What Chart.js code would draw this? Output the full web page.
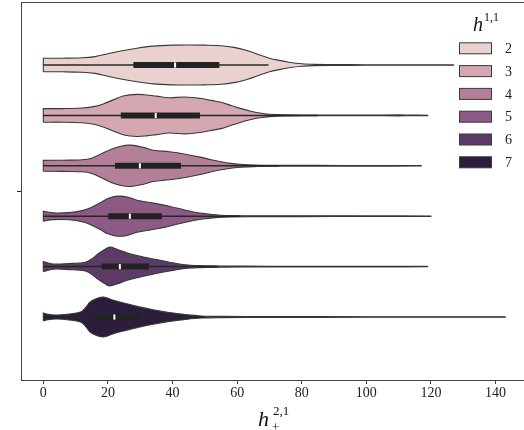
<!DOCTYPE html>
<html><head><meta charset="utf-8">
<script src="https://cdn.jsdelivr.net/npm/chart.js@4"></script>
<style>html,body{margin:0;padding:0;background:#fff}</style>
</head><body>
<canvas id="c" width="524" height="430"></canvas>
<script>
// categories (h^{1,1} values)
const groups = ['2','3','4','5','6','7'];
const xTicks = [0,20,40,60,80,100,120,140];
const fillColors = ['#e9d1cf','#d5a7b0','#b47f99','#8d5a85','#5c3b66','#2c1d3c'];

// KDE outlines: sample positions and relative density (max ~1)
const xs2 = [0,6,12,16,20,24,29,34,40,45,50,55,59,63,67,70,73,76,80,84,90,100,110,120,127];
const d2  = [0.34,0.34,0.36,0.42,0.56,0.70,0.84,0.94,0.99,1.0,0.99,0.96,0.88,0.72,0.5,0.34,0.23,0.14,0.06,0.03,0.02,0.015,0.015,0.015,0.01];
const xs3 = [0,6,12,16,19,22,25,29,32,35,39,44,49,52,55,58,61,64,67,70,75,85,100,110,114,119];
const d3  = [0.34,0.34,0.37,0.45,0.6,0.8,0.98,1.05,1.02,0.96,0.88,0.92,0.84,0.75,0.66,0.5,0.35,0.22,0.12,0.06,0.03,0.02,0.015,0.025,0.015,0.01];
const xs4 = [0,6,12,15,18,21,24,27,31,34,39,44,49,52,55,58,61,65,72,85,100,117];
const d4  = [0.27,0.28,0.3,0.38,0.6,0.83,0.98,1.03,0.92,0.78,0.7,0.58,0.42,0.3,0.2,0.12,0.075,0.04,0.025,0.02,0.015,0.01];
const xs5 = [0,3,8,12,15,18,20,23,26,29,34,39,44,47,50,54,58,65,80,100,120];
const d5  = [0.25,0.17,0.18,0.28,0.45,0.7,0.88,1.0,0.96,0.8,0.66,0.5,0.3,0.2,0.13,0.06,0.035,0.025,0.02,0.015,0.01];
const xs6 = [0,3,8,13,15,17,19,20.6,23,26,29,34,39,44,48,55,70,90,105,119];
const d6  = [0.25,0.13,0.15,0.22,0.38,0.64,0.85,0.97,0.85,0.68,0.55,0.38,0.22,0.09,0.05,0.03,0.02,0.015,0.015,0.01];
const xs7 = [0,1.5,4,8,11.5,13,14.5,16.5,18.6,21.7,25.8,29,34,39,44,49,55,70,100,130,143];
const d7  = [0.2,0.13,0.1,0.15,0.25,0.45,0.75,0.92,1.0,0.83,0.66,0.53,0.36,0.22,0.12,0.05,0.03,0.02,0.015,0.015,0.01];

// inner box statistics
const q1     = [27.9,24.0,22.2,20.1,18.1,16.0];
const median = [40.8,34.8,29.9,26.8,23.7,22.0];
const q3     = [54.5,48.5,42.6,36.7,32.7,29.7];
const whisLo = [0,0,0,0,0,0];
const whisHi = [69.7,85,73,61,54,50];

const gridX = [xs2,xs3,xs4,xs5,xs6,xs7];
const dens  = [d2,d3,d4,d5,d6,d7];

const groupWidth = 0.8, nG = groups.length;
const step = groupWidth / nG;
const halfW = 0.053;
function center(i){ return -groupWidth/2 + step/2 + i*step; }

const datasets = [];
groups.forEach((g,i)=>{
  const c = center(i), X = gridX[i], D = dens[i], n = X.length;
  const pts = [];
  pts.push({x:X[0], y:c + D[0]*halfW});
  pts.push({x:X[0], y:c - D[0]*halfW});
  pts.push({x:X[0], y:c - D[0]*halfW});
  for (let j=1;j<n;j++) pts.push({x:X[j], y:c - D[j]*halfW});
  for (let j=n-1;j>=1;j--) pts.push({x:X[j], y:c + D[j]*halfW});
  pts.push({x:X[0], y:c + D[0]*halfW});
  datasets.push({label:'v'+g, data:pts, fill:'shape', backgroundColor:fillColors[i],
    borderColor:'#383838', borderWidth:1.1, tension:0.35, pointRadius:0, order:3});
  datasets.push({label:'w'+g, data:[{x:whisLo[i],y:c},{x:whisHi[i],y:c}], borderColor:'#262626',
    borderWidth:1.5, pointRadius:0, fill:false, order:2});
  datasets.push({label:'b'+g, data:[{x:q1[i],y:c},{x:q3[i],y:c}], borderColor:'#222',
    borderWidth:6, borderCapStyle:'butt', pointRadius:0, fill:false, order:1});
  datasets.push({label:'m'+g, data:[{x:median[i],y:c}], showLine:false, pointStyle:'line',
    rotation:90, pointRadius:2.6, pointBorderWidth:2, pointBorderColor:'#fff', order:0});
});

const serif = '"Liberation Serif", "DejaVu Serif", serif';

const decor = {
  id:'decor',
  afterDraw(chart){
    const ctx = chart.ctx, a = chart.chartArea;
    ctx.save();
    ctx.strokeStyle = '#444'; ctx.lineWidth = 1;
    ctx.beginPath(); ctx.moveTo(a.left, a.top+0.5); ctx.lineTo(chart.width, a.top+0.5); ctx.stroke();
    // legend
    ctx.fillStyle = '#111';
    ctx.textBaseline = 'alphabetic';
    ctx.font = 'italic 20px ' + serif;
    ctx.fillText('h', 473, 31);
    ctx.font = '12px ' + serif;
    ctx.fillText('1,1', 484, 21);
    const cy0 = 48.3, dy = 22.8;
    groups.forEach((g,i)=>{
      const cy = cy0 + i*dy;
      ctx.fillStyle = fillColors[i];
      ctx.fillRect(459.5, cy-5.5, 32, 11);
      ctx.strokeStyle = '#3a3a3a'; ctx.lineWidth = 1;
      ctx.strokeRect(459.5, cy-5.5, 32, 11);
      ctx.fillStyle = '#222';
      ctx.font = '14px ' + serif;
      ctx.textBaseline = 'middle';
      ctx.fillText(g, 505, cy+1);
    });
    // x-axis title h_+^{2,1}
    ctx.textBaseline = 'alphabetic';
    ctx.fillStyle = '#111';
    ctx.font = 'italic 22px ' + serif;
    ctx.fillText('h', 258, 425.5);
    ctx.font = '13px ' + serif;
    ctx.fillText('2,1', 273, 415);
    ctx.fillText('+', 272, 431);
    ctx.restore();
  }
};

new Chart(document.getElementById('c'), {
  type:'line',
  data:{datasets},
  options:{
    responsive:false, animation:false, devicePixelRatio:1,
    layout:{autoPadding:false, padding:{top:2,right:0,left:0,bottom:0}},
    plugins:{legend:{display:false}, tooltip:{enabled:false}},
    scales:{
      x:{type:'linear', min:-6.9, max:148.8,
        afterBuildTicks:s=>{ s.ticks = xTicks.map(v=>({value:v})); },
        afterFit:s=>{ s.height = 50; s.paddingLeft = 0; s.paddingRight = 0; },
        ticks:{font:{family:serif,size:14}, color:'#222', padding:1, maxRotation:0, autoSkip:false},
        grid:{drawOnChartArea:false, drawTicks:true, tickLength:4, color:'#444', lineWidth:1},
        border:{display:true, color:'#444', width:1}},
      y:{type:'linear', min:-0.5, max:0.5, reverse:true,
        afterBuildTicks:s=>{ s.ticks = [{value:0}]; },
        afterFit:s=>{ s.width = 21; s.paddingTop = 0; s.paddingBottom = 0; },
        ticks:{callback:()=> '', padding:0},
        grid:{drawOnChartArea:false, drawTicks:true, tickLength:4, color:'#222', lineWidth:1},
        border:{display:true, color:'#444', width:1}}
    }
  },
  plugins:[decor]
});
</script>
</body></html>
